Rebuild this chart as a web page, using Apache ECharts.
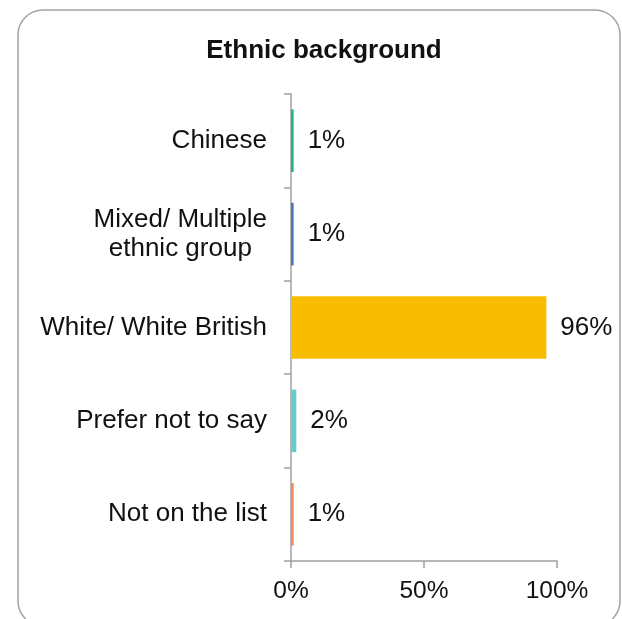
<!DOCTYPE html>
<html>
<head>
<meta charset="utf-8">
<script src="https://cdn.jsdelivr.net/npm/echarts@6/dist/echarts.min.js"></script>
<style>
  html, body { margin: 0; padding: 0; background: #fff; }
  #chart { width: 622px; height: 619px; }
</style>
</head>
<body>
<div id="chart"></div>
<script>
// Survey responses: ethnic background (share of respondents, %)
const categories = ['Chinese', 'Mixed/ Multiple\nethnic group', 'White/ White British', 'Prefer not to say', 'Not on the list'];
const shares = [1, 1, 96, 2, 1];
const barColors = ['#1dbb7a', '#4f72bd', '#f8bc00', '#6acbcc', '#f0895c'];
const xTicks = [0, 50, 100];

const FONT = '"Liberation Sans", Arial, sans-serif';
const AXIS_GREY = '#a0a0a0';

const chart = echarts.init(document.getElementById('chart'), null, { renderer: 'canvas' });

chart.setOption({
  backgroundColor: '#ffffff',
  animation: false,
  graphic: [{
    type: 'rect',
    shape: { x: 18, y: 10, width: 602, height: 616, r: 25 },
    style: { fill: 'none', stroke: '#a3a3a3', lineWidth: 1.5 },
    silent: true,
    z: -1
  }],
  title: {
    text: 'Ethnic background',
    left: 319,
    top: 33,
    textAlign: 'center',
    textStyle: { fontFamily: FONT, fontSize: 26, fontWeight: 'bold', color: '#111' }
  },
  grid: {
    left: 291,
    right: 65,
    top: 94,
    bottom: 58,
    containLabel: false,
    outerBoundsMode: 'none'
  },
  xAxis: {
    type: 'value',
    min: xTicks[0],
    max: xTicks[xTicks.length - 1],
    interval: xTicks[1] - xTicks[0],
    splitLine: { show: false },
    axisLine: { show: true, lineStyle: { color: AXIS_GREY, width: 1.5 } },
    axisTick: { show: true, length: 7, lineStyle: { color: AXIS_GREY, width: 1.5 } },
    axisLabel: {
      margin: 18,
      formatter: '{value}%',
      fontFamily: FONT,
      fontSize: 24.5,
      color: '#111'
    }
  },
  yAxis: {
    type: 'category',
    data: categories,
    inverse: true,
    axisLine: { show: true, lineStyle: { color: AXIS_GREY, width: 1.5 } },
    axisTick: { show: true, length: 7, lineStyle: { color: AXIS_GREY, width: 1.5 } },
    axisLabel: {
      margin: 24,
      fontFamily: FONT,
      fontSize: 26,
      color: '#111',
      lineHeight: 29,
      formatter: function (v) {
        return v.split('\n').map(function (s) { return '{c|' + s + '}'; }).join('\n');
      },
      rich: {
        c: { align: 'center', fontFamily: FONT, fontSize: 26, color: '#111', lineHeight: 29 }
      }
    }
  },
  series: [{
    type: 'bar',
    barCategoryGap: '33%',
    data: shares.map(function (v, i) {
      return { value: v, itemStyle: { color: barColors[i] } };
    }),
    label: {
      show: true,
      position: 'right',
      distance: 14,
      formatter: '{c}%',
      fontFamily: FONT,
      fontSize: 26,
      color: '#111'
    }
  }]
});
</script>
</body>
</html>
